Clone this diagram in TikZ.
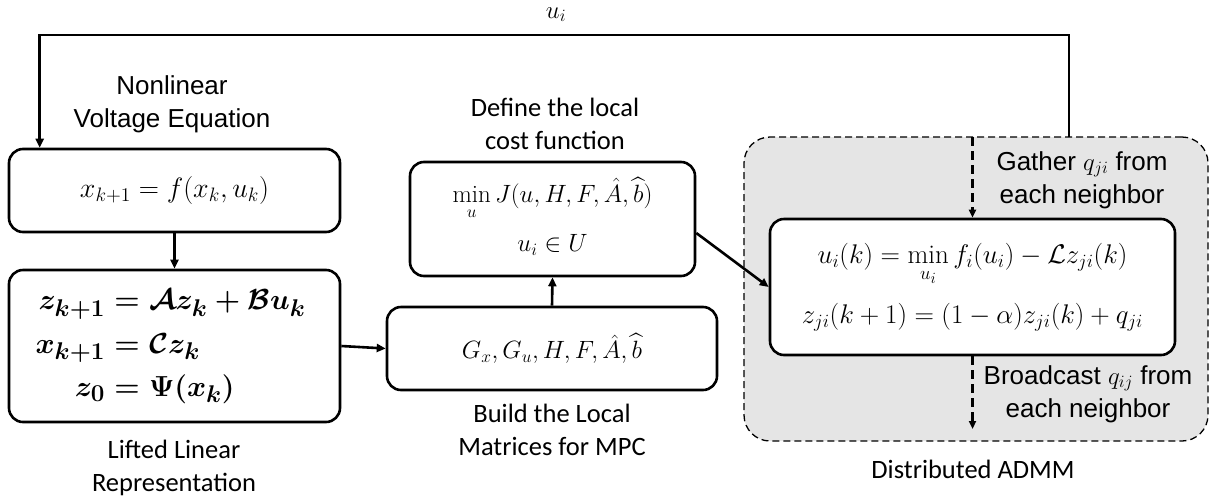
\documentclass[tikz,border=0pt]{standalone}
\usepackage{amsmath}
\usepackage{graphicx}
\usepackage{fontspec}
\newfontfamily\arialf{Liberation Sans}
\newfontfamily\calf{Carlito}
\usetikzlibrary{arrows.meta,calc}
\newsavebox\liftbox
\newsavebox\nlbox
\newsavebox\matbox
\newsavebox\costbox
\newsavebox\admmbox
\newsavebox\uibox
\tikzset{
  blk/.style={draw=black,line width=2.6pt,rounded corners=14pt,fill=white,align=center,inner sep=0pt},
  arr/.style={line width=2.6pt,-{Triangle[length=9pt,width=8pt]}},
  darr/.style={line width=2.6pt,dash pattern=on 9pt off 5pt,-{Triangle[length=8pt,width=7pt]}},
  lbla/.style={font=\arialf\fontsize{26}{33}\selectfont,align=center},
  lblc/.style={font=\calf\fontsize{26.5}{33}\selectfont,align=center},
}
\begin{document}
\sbox\liftbox{\scalebox{1.166}{\fontsize{24.88}{30}\selectfont\boldmath$\begin{aligned}z_{k+1}&=\mathcal{A}z_k+\mathcal{B}u_k\\[4pt] x_{k+1}&=\mathcal{C}z_k\\[4pt] z_0&=\Psi(x_k)\end{aligned}$}\hspace*{8pt}}%
\sbox\nlbox{\scalebox{1.35}{\fontsize{20.74}{25}\selectfont$x_{k+1}=f(x_k,u_k)$}}%
\sbox\matbox{\scalebox{1.205}{\fontsize{20.74}{25}\selectfont$G_x,G_u,H,F,\hat{A},\widehat{b}$}}%
\sbox\costbox{\scalebox{1.205}{\fontsize{20.74}{25}\selectfont$\begin{array}{c}\displaystyle\min_u J(u,H,F,\hat{A},\widehat{b})\\[16pt] u_i\in U\end{array}$}}%
\sbox\admmbox{\scalebox{1.30}{\fontsize{20.74}{25}\selectfont$\begin{array}{c}\displaystyle u_i(k)=\min_{u_i} f_i(u_i)-\mathcal{L}z_{ji}(k)\\[21pt] z_{ji}(k+1)=(1-\alpha)z_{ji}(k)+q_{ji}\end{array}$}}%
\sbox\uibox{\scalebox{1.2}{\fontsize{20.74}{25}\selectfont$u_i$}}%
\begin{tikzpicture}[x=1pt,y=-1pt]
\useasboundingbox (0,0) rectangle (1214,501);
% ADMM container
\node[draw=black,line width=1.3pt,dash pattern=on 7pt off 4pt,rounded corners=26pt,fill=black!10,minimum width=464pt,minimum height=304pt] (admm) at (976,289) {};
% boxes
\node[blk,minimum width=331pt,minimum height=83pt] (b1) at (174.5,190.5) {\usebox\nlbox};
\node[blk,minimum width=331pt,minimum height=152pt] (b2) at (174.5,346) {\usebox\liftbox};
\node[blk,minimum width=330pt,minimum height=83pt] (b3) at (552,348.5) {\raisebox{5pt}{\usebox\matbox}};
\node[blk,minimum width=285pt,minimum height=114pt] (b4) at (552.5,219) {\usebox\costbox};
\node[blk,minimum width=405pt,minimum height=136pt] (b5) at (972.5,287) {\usebox\admmbox};
% labels
\node[lbla] (l1) at (172,104) {Nonlinear\\Voltage Equation};
\node[lblc] (l2) at (174,468) {Lifted Linear\\Representation};
\node[lblc] (l3) at (552,430) {Build the Local\\Matrices for MPC};
\node[lblc] (l4) at (555,124) {Define the local\\cost function};
\node[lbla] (l5) at (1082,180) {Gather $q_{ji}$ from\\each neighbor};
\node[lbla] (l6) at (1088,394) {Broadcast $q_{ij}$ from\\each neighbor};
\node[lblc] (l7) at (973,469) {Distributed ADMM};
\node[anchor=base,inner sep=0pt] (ui) at (556,18) {\usebox\uibox};
% connectors
\coordinate (fbtop) at (1069,137);
\coordinate (fbin) at ($(b1.north west)+(32,0)$);
\draw[arr] (fbtop) -- (1069,35) -- (fbin |- 0,35) -- (fbin);
\draw[arr] (b1.south) -- (b2.north);
\draw[arr] (b2.east) -- (b3.west);
\draw[arr] (b3.north) -- (b4.south);
\draw[arr] ($(b4.east)+(0,14)$) -- (b5.west);
\coordinate (din) at (b5.north |- 0,137);
\coordinate (dout) at (b5.south |- 0,429);
\draw[darr] (din) -- (b5.north);
\draw[darr] (b5.south) -- (dout);
\end{tikzpicture}
\end{document}
